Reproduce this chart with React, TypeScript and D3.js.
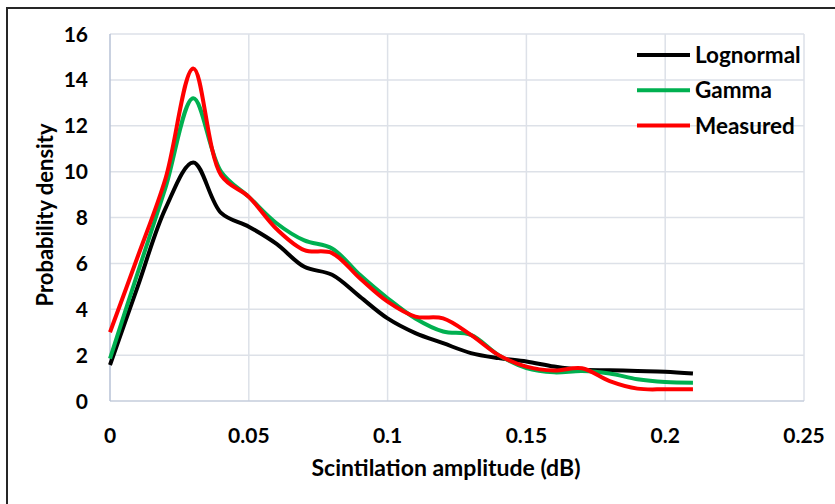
import React from "react";
import * as d3 from "d3";

// x values (dB) shared by all three curves
const amplitudes = [
  0, 0.01, 0.02, 0.03, 0.04, 0.05, 0.06, 0.07, 0.08, 0.09, 0.1, 0.11,
  0.12, 0.13, 0.14, 0.15, 0.16, 0.17, 0.18, 0.19, 0.2, 0.21,
];

const lognormal = [
  1.57, 5.0, 8.4, 10.4, 8.2, 7.6, 6.85, 5.85, 5.5, 4.55, 3.6, 2.96,
  2.52, 2.09, 1.87, 1.72, 1.5, 1.36, 1.34, 1.31, 1.28, 1.2,
];
const gamma = [
  1.85, 5.6, 9.3, 13.2, 10.0, 8.9, 7.75, 7.0, 6.65, 5.5, 4.48, 3.6,
  3.03, 2.88, 2.0, 1.43, 1.25, 1.31, 1.2, 0.95, 0.83, 0.8,
];
const measured = [
  3.0, 6.3, 9.7, 14.5, 9.85, 8.9, 7.5, 6.58, 6.45, 5.35, 4.33, 3.68,
  3.6, 2.88, 2.0, 1.5, 1.33, 1.43, 0.87, 0.54, 0.51, 0.51,
];

const seriesNames = ["Lognormal", "Gamma", "Measured"];
const seriesColors = ["#000000", "#00b050", "#ff0000"];

const yTicks = [0, 2, 4, 6, 8, 10, 12, 14, 16];
const xTicks = [0, 0.05, 0.1, 0.15, 0.2, 0.25];
const xTickLabels = ["0", "0.05", "0.1", "0.15", "0.2", "0.25"];

const App = () => {
  const svgRef = React.useRef<SVGSVGElement>(null);
  const width = 835;
  const height = 504;
  const font = "Lato, 'Open Sans', sans-serif";

  React.useEffect(() => {
    const xScale = d3.scaleLinear().domain([0, 0.25]).range([110, 804]);
    const yScale = d3.scaleLinear().domain([0, 16]).range([401, 34]);

    const svg = d3.select(svgRef.current);
    svg.selectAll("*").remove();

    svg.append("rect").attr("width", width).attr("height", height).attr("fill", "#fff");

    // outer frame (only top and left edges fall inside the image)
    svg
      .append("rect")
      .attr("x", 7)
      .attr("y", 8)
      .attr("width", 900)
      .attr("height", 600)
      .attr("fill", "none")
      .attr("stroke", "#262626")
      .attr("stroke-width", 2);

    // grid lines
    svg
      .append("g")
      .selectAll("line")
      .data(yTicks.slice(1))
      .enter()
      .append("line")
      .attr("x1", xScale(0))
      .attr("x2", xScale(0.25))
      .attr("y1", (d) => yScale(d))
      .attr("y2", (d) => yScale(d))
      .attr("stroke", "#dde1e8")
      .attr("stroke-width", 1.5);

    svg
      .append("g")
      .selectAll("line")
      .data(xTicks.slice(1))
      .enter()
      .append("line")
      .attr("x1", (d) => xScale(d))
      .attr("x2", (d) => xScale(d))
      .attr("y1", yScale(0))
      .attr("y2", yScale(16))
      .attr("stroke", "#dde1e8")
      .attr("stroke-width", 1.5);

    // axis lines
    svg
      .append("line")
      .attr("x1", xScale(0))
      .attr("x2", xScale(0.25))
      .attr("y1", yScale(0))
      .attr("y2", yScale(0))
      .attr("stroke", "#c5cddb")
      .attr("stroke-width", 1.5);
    svg
      .append("line")
      .attr("x1", xScale(0))
      .attr("x2", xScale(0))
      .attr("y1", yScale(0))
      .attr("y2", yScale(16))
      .attr("stroke", "#b7c2d6")
      .attr("stroke-width", 1.5);

    // tick labels
    svg
      .append("g")
      .selectAll("text")
      .data(yTicks)
      .enter()
      .append("text")
      .attr("x", 88)
      .attr("y", (d) => yScale(d) + 7.5)
      .attr("text-anchor", "end")
      .attr("font-family", font)
      .attr("font-weight", 700)
      .attr("font-size", 21)
      .attr("fill", "#000")
      .text((d) => d);

    svg
      .append("g")
      .selectAll("text")
      .data(xTicks)
      .enter()
      .append("text")
      .attr("x", (d) => xScale(d))
      .attr("y", 443)
      .attr("text-anchor", "middle")
      .attr("font-family", font)
      .attr("font-weight", 700)
      .attr("font-size", 21)
      .attr("fill", "#000")
      .text((d, i) => xTickLabels[i]);

    // axis titles
    svg
      .append("text")
      .attr("x", 446)
      .attr("y", 476)
      .attr("text-anchor", "middle")
      .attr("font-family", font)
      .attr("font-weight", 700)
      .attr("font-size", 23)
      .text("Scintilation amplitude (dB)");

    svg
      .append("text")
      .attr("transform", "translate(53,215) rotate(-90)")
      .attr("text-anchor", "middle")
      .attr("font-family", font)
      .attr("font-weight", 700)
      .attr("font-size", 22)
      .text("Probability density");

    // curves
    const line = d3
      .line<number>()
      .x((d, i) => xScale(amplitudes[i]))
      .y((d) => yScale(d))
      .curve(d3.curveCatmullRom.alpha(0.5));

    [lognormal, gamma, measured].forEach((values, i) => {
      svg
        .append("path")
        .attr("fill", "none")
        .attr("stroke", seriesColors[i])
        .attr("stroke-width", 4)
        .attr("stroke-linejoin", "round")
        .attr("d", line(values));
    });

    // legend
    const legend = svg.append("g");
    seriesNames.forEach((name, i) => {
      const y = 55 + i * 35.3;
      legend
        .append("line")
        .attr("x1", 637)
        .attr("x2", 690)
        .attr("y1", y)
        .attr("y2", y)
        .attr("stroke", seriesColors[i])
        .attr("stroke-width", 4);
      legend
        .append("text")
        .attr("x", 695)
        .attr("y", y + 8)
        .attr("font-family", font)
        .attr("font-weight", 700)
        .attr("font-size", 22.5)
        .attr("fill", "#000")
        .text(name);
    });
  }, []);

  return (
    <svg
      ref={svgRef}
      width={width}
      height={height}
      style={{ position: "absolute", left: 0, top: 0, display: "block" }}
    />
  );
};

export default App;
